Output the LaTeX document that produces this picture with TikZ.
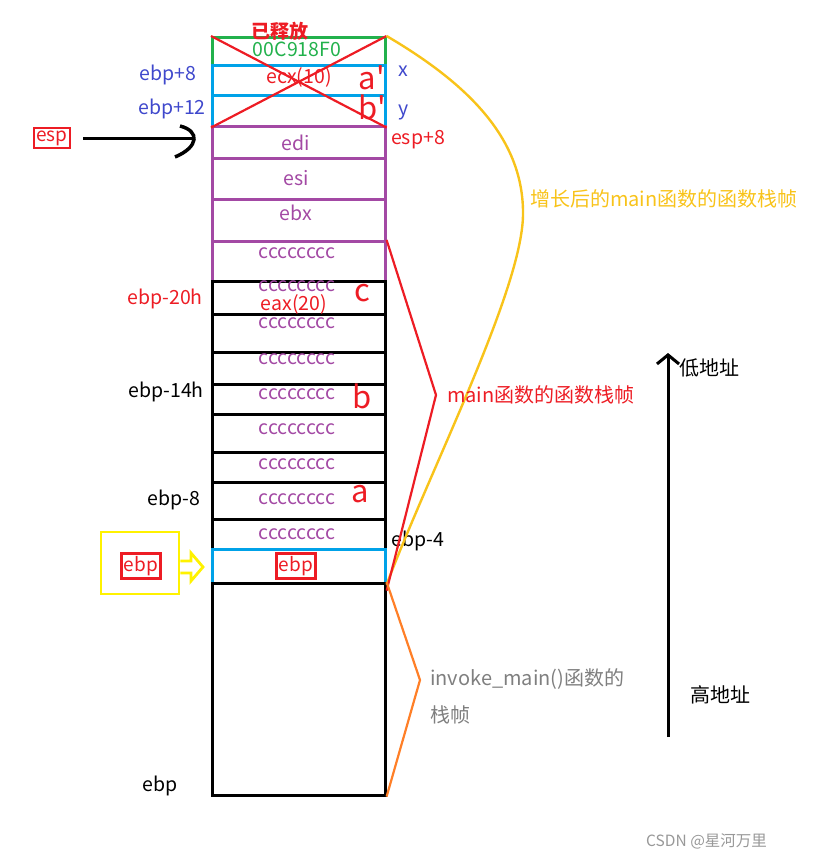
\documentclass[tikz,border=0pt]{standalone}
\usepackage{fontspec}
\setmainfont{Noto Sans CJK SC}
\usetikzlibrary{arrows.meta}
\definecolor{cgreen}{HTML}{22B14C}
\definecolor{cblue}{HTML}{00A2E8}
\definecolor{cpurple}{HTML}{A349A4}
\definecolor{cred}{HTML}{ED1C24}
\definecolor{cbluetxt}{HTML}{3F48CC}
\definecolor{cyellow}{HTML}{F8C31A}
\definecolor{cybox}{HTML}{FFF200}
\definecolor{corange}{HTML}{FF7F27}
\definecolor{cgray}{HTML}{7F7F7F}
\tikzset{
  cell/.style={draw, rectangle, anchor=north west, minimum width=173pt, inner sep=0pt, line width=2.6pt},
  cellg/.style={cell, draw=cgreen},
  cellb/.style={cell, draw=cblue},
  cellp/.style={cell, draw=cpurple},
  cellk/.style={cell, draw=black},
  txt/.style={inner sep=0pt, font=\fontsize{19.5pt}{22pt}\selectfont},
  big/.style={inner sep=0pt, font=\fontsize{31pt}{34pt}\selectfont, text=cred},
  cjk/.style={inner sep=0pt, font=\fontsize{20pt}{23pt}\selectfont},
  redbox/.style={draw=cred, line width=2.6pt, inner sep=2.5pt, text=cred, font=\fontsize{19pt}{21pt}\selectfont},
}
\begin{document}
\begin{tikzpicture}[x=1pt,y=-1pt]
\useasboundingbox (0,0) rectangle (835,859);
% stack cells
\node[cellg, minimum height=28pt] (g) at (211,36) {};
\node[cellb, minimum height=30pt] (bx) at (211,64) {};
\node[cellb, minimum height=31pt] (by) at (211,94) {};
\node[cellp, minimum height=32pt] (edi) at (211,125) {};
\node[cellp, minimum height=41pt] (esi) at (211,157) {};
\node[cellp, minimum height=42pt] (ebx) at (211,198) {};
\node[cellp, minimum height=40pt] (c1) at (211,240) {};
\node[cellk, minimum height=33pt] (c2) at (211,280) {};
\node[cellk, minimum height=38pt] (c3) at (211,313) {};
\node[cellk, minimum height=32pt] (c4) at (211,351) {};
\node[cellk, minimum height=30pt] (c5) at (211,383) {};
\node[cellk, minimum height=38pt] (c6) at (211,413) {};
\node[cellk, minimum height=30pt] (c7) at (211,451) {};
\node[cellk, minimum height=37pt] (c8) at (211,481) {};
\node[cellk, minimum height=30pt] (c9) at (211,518) {};
\node[cellb, minimum height=34pt] (eb) at (211,548) {};
\node[cellk, minimum height=212pt] (bigc) at (211,582) {};
% cross
\draw[cred, line width=2.2pt] (g.north west) -- (by.south east);
\draw[cred, line width=2.2pt] (g.north east) -- (by.south west);
% cell texts
\node[txt, text=cgreen] (t0) at (297,49) {00C918F0};
\node[txt, text=cred] (t1) at (299,77) {ecx(10)};
\node[big] (ap) at (372,78) {a\textquotesingle};
\node[big] (bp) at (372,107) {b\textquotesingle};
\node[txt, text=cpurple] (tedi) at (296,143) {edi};
\node[txt, text=cpurple] (tesi) at (296,178) {esi};
\node[txt, text=cpurple] (tebx) at (296,213) {ebx};
\foreach \y/\n in {253/1,286/2,323/3,359/4,394/5,429/6,464/7,499/8,534/9}
  \node[txt, text=cpurple] (cc\n) at (297,\y) {cccccccc};
\node[txt, text=cred] (eax) at (294,304) {eax(20)};
\node[big] (lc) at (362,293) {c};
\node[big] (lb) at (362,396) {b};
\node[big] (la) at (360,494) {a};
\node[redbox] (ebin) at (296,566) {ebp};
\node[font=\fontsize{19pt}{21pt}\selectfont\bfseries, text=cred, inner sep=0pt] (freed) at (280,31) {已释放};
% left labels
\node[txt, text=cbluetxt] (l8) at (168,75) {ebp+8};
\node[txt, text=cbluetxt] (l12) at (172,109) {ebp+12};
\node[redbox] (esp) at (52,138) {esp};
\node[txt, text=cred] (l20) at (165,299) {ebp-20h};
\node[txt] (l14) at (166,392) {ebp-14h};
\node[txt] (l8m) at (174,500) {ebp-8};
\node[txt] (l4) at (418,541) {ebp-4};
\node[txt] (lebp) at (160,786) {ebp};
\node[txt, text=cred] (lesp8) at (418,140) {esp+8};
\node[txt, text=cbluetxt] (lx) at (403,71) {x};
\node[txt, text=cbluetxt] (ly) at (404,112) {y};
% esp arrow
\draw[line width=3pt] ([xshift=12pt]esp.east) -- ([xshift=-18pt]edi.west |- esp.east);
\draw[line width=3.5pt] (180,126) .. controls (200,131) and (199,147) .. (175,157);
% yellow box + hollow arrow
\node[draw=cybox, line width=2.8pt, minimum width=78pt, minimum height=62pt, inner sep=0pt] (yb) at (140,563) {};
\node[redbox] (ebl) at (141,566) {ebp};
\draw[cybox, line width=2.8pt, line join=miter] (yb.east |- 0,561) -- (191,561) -- (191,553) -- (203,567) -- (191,581) -- (191,573) -- (yb.east |- 0,573);
% right brackets
\draw[cyellow, line width=2.4pt] (g.north east) .. controls (470,85) and (524,140) .. (523,215) .. controls (522,290) and (430,470) .. (eb.south east);
\node[cjk, text=cyellow, anchor=west] (tgrow) at (530,199) {增长后的main函数的函数栈帧};
\draw[cred, line width=2.2pt] (c1.north east) -- (436,395) coordinate (rtip) -- ([yshift=-6pt]eb.south east);
\node[cjk, text=cred, anchor=west] (tmain) at (447,395) {main函数的函数栈帧};
\draw[corange, line width=2.2pt] (bigc.north east) -- (420,680) -- (bigc.south east);
\node[cjk, text=cgray, anchor=west] (tinv1) at (430,679) {invoke\_main()函数的};
\node[cjk, text=cgray, anchor=west] (tinv2) at (430,715) {栈帧};
% address arrow
\coordinate (ahigh) at (668,737);
\coordinate (alow) at (668,353);
\draw[line width=3pt, -{Straight Barb[length=9pt,width=22pt,line width=3pt]}] (ahigh) -- (alow);
\node[cjk, anchor=west] (tlow) at (679,368) {低地址};
\node[cjk, anchor=west] (thigh) at (690,695) {高地址};
% watermark
\node[inner sep=0pt, text=cgray!80, font=\fontsize{15.5pt}{18pt}\selectfont, anchor=west] (wm) at (646,841) {CSDN @星河万里};
\end{tikzpicture}
\end{document}
